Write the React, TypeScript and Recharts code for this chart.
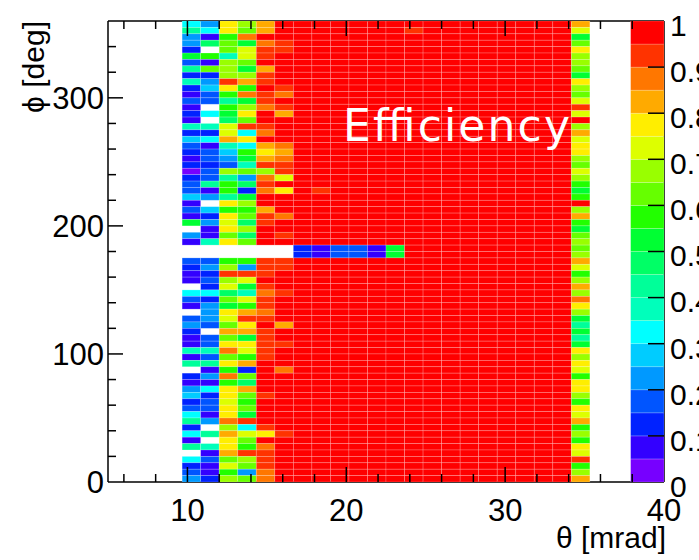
import React from "react";
import { ScatterChart, Scatter, XAxis, YAxis, ReferenceLine } from "recharts";

// efficiency map: theta 30 bins over 5-40 mrad, phi 72 bins of 5 deg
const THETA_MIN = 5;
const THETA_MAX = 40;
const THETA_BINS = 30;
const PHI_MAX = 360;
const PHI_BINS = 72;
const FIRST_BIN = 4; // first theta bin with entries (9.67-10.83 mrad)

// colour levels of the palette, 0.05 wide each
const LEVELS = "0123456789abcdefghij";
const PALETTE = [
  "#7700ff", "#3300ff", "#0022ff", "#0055ff", "#0099ff",
  "#00ccff", "#00ffff", "#00ffbb", "#00ff99", "#00ff66",
  "#00ff33", "#22ff00", "#66ff00", "#99ff00", "#ddff00",
  "#ffee00", "#ffaa00", "#ff7700", "#ff3300", "#ff0000",
];

// one string per theta bin (from FIRST_BIN), top row (phi 355-360) first, "." = empty
const effColumns = [
  "68442a3827" + "2131217253" + "2120233513" + "1a.41..321" + "1.631.3421" + "1718.21452" + "3682618.62" + "34",
  "4619.b1c24" + "533.6.7261" + "33233814.5" + "24117..342" + "32624443.3" + "3738141623" + "314.8.7131" + "12",
  "ffbcc7dddi" + "fb8ba9eeg7" + "543d8bb8fb" + "fefcf..bdi" + "de9cafecgc" + "fhcfbhbffe" + "ffhdgffgce" + "bd",
  "dchaeecadg" + "bhadfci6f6" + "ba7c492adb" + "c9d9c..b4i" + "ea7ebgifga" + "febg2c9gcb" + "cai6ecbidc" + "4c",
  "ggjhiijgii" + "jiihjjihjg" + "fgidhihjjg" + "iijjj..iii" + "jihiihijii" + "iiijjjjjij" + "jjjifjhiii" + "hh",
  "jjjiijjjjj" + "ihjigjjjjh" + "ghiiejfjjj" + "hjjij..iij" + "jjijjjjgjj" + "ijjjhjjjjj" + "jjjjijjjjj" + "jj",
  "jjjjjjjjjj" + "jjjjjjjjjj" + "jjjjjjjjjj" + "jjjjj22jjj" + "jjjjjjjjjj" + "jjjjjjjjjj" + "jjjjjjjjjj" + "jj",
  "jjjjjjjjjj" + "jjjjjjjjjj" + "jjjjjjijjj" + "jjjjj11jjj" + "jjjjjjjjjj" + "jjjjjjjjjj" + "jjjjjjjjjj" + "jj",
  "jjjjjjjjjj" + "jjjjjjjjjj" + "jjjjjjjjjj" + "jjjjj33jjj" + "jjjjjjjjjj" + "jjjjjjjjjj" + "jjjjjjjjjj" + "jj",
  "jjjjjjjjjj" + "jjjjjjjjjj" + "jjjjjjjjjj" + "jjjjj33jjj" + "jjjjjjjjjj" + "jjjjjjjjjj" + "jjjjjjjjjj" + "jj",
  "jjjjjjjjjj" + "jjjjjjjjjj" + "jjjjjjjjjj" + "jjjjj11jjj" + "jjjjjjjjjj" + "jjjjjjjjjj" + "jjjjjjjjjj" + "jj",
  "jjjjjjjjjj" + "jjjjjjjjjj" + "jjjjjjjjjj" + "jjjjjaajjj" + "jjjjjjjjjj" + "jjjjjjjjjj" + "jjjjjjjjjj" + "jj",
  "jijjjjjjjj" + "jjjjjjjjjj" + "jjjjjjjjjj" + "jjjjjjjjjj" + "jjjjjjjjjj" + "jjjjjjjjjj" + "jjjjjjjjjj" + "jj",
  "jjjjjjjjjj" + "jjjjjjjjjj" + "jjjjjjjjjj" + "jjjjjjjjjj" + "jjjjjjjjjj" + "jjjjjjjjjj" + "jjjjjjjjjj" + "jj",
  "jjjjjjjjjj" + "jjjjjjjjjj" + "jjjjjjjjjj" + "jjjjjjjjjj" + "jjjjjjjjjj" + "jjjjjjjjjj" + "jjjjjjjjjj" + "jj",
  "jjjjjjjjjj" + "jjjjjjjjjj" + "jjjjjjjjjj" + "jjjjjjjjjj" + "jjjjjjjjjj" + "jjjjjjjjjj" + "jjjjjjjjjj" + "jj",
  "jjjjjjjjjj" + "jjjjjjjjjj" + "jjjjjjjjjj" + "jjjjjjjjjj" + "jjjjjjjjjj" + "jjjjjjjjjj" + "jjjjjjjjjj" + "jj",
  "jjjjjjjjjj" + "jjjjjjjjjj" + "jjjjjjjjjj" + "jjjjjjjjjj" + "jjjjjjjjjj" + "jjjjjjjjjj" + "jjjjjjjjjj" + "jj",
  "jjjjjjjjjj" + "jjjjjjjjjj" + "jjjjjjjjjj" + "jjjjjjjjjj" + "jjjjjjjjjj" + "jjjjjjjjjj" + "jjjjjjjjjj" + "jj",
  "jjjjjjjjjj" + "jjjjjjjjjj" + "jjjjjjjjjj" + "jjjjjjjjjj" + "jjjjjjjjjj" + "jjjjjjjjjj" + "jjjjjjjjjj" + "jj",
  "jjjjjjjjjj" + "jjjjjjjjjj" + "jjjjjjjjjj" + "jjjjjjjjjj" + "jjjjjjjjjj" + "jjjjjjjjjj" + "jjjjjjjjjj" + "jj",
  "geacfddcaf" + "dceiejdgef" + "fdcedbabjd" + "gbacdcdgeb" + "dgdhfda8a8" + "afdfebffdb" + "fegbdbfeib" + "dg",
];

const THETA_TICKS = [6, 8, 10, 12, 14, 16, 18, 20, 22, 24, 26, 28, 30, 32, 34, 36, 38, 40];
const THETA_LABELS = [10, 20, 30, 40];
const PHI_TICKS = [0, 20, 40, 60, 80, 100, 120, 140, 160, 180, 200, 220, 240, 260, 280, 300, 320, 340];
const PHI_LABELS = [0, 100, 200, 300];
const PAL_TICKS = [0, 0.1, 0.2, 0.3, 0.4, 0.5, 0.6, 0.7, 0.8, 0.9, 1];
const PAL_RANGE = [37.9, 40]; // theta span covered by the colour bar

// layout
const W = 699;
const H = 560;
const LEFT = 108;
const RIGHT_AXIS = 35;
const TOP = 21;
const BOTTOM_AXIS = 78;
const PLOT_W = W - LEFT - RIGHT_AXIS;
const PLOT_H = H - TOP - BOTTOM_AXIS;
const BIN_W = (THETA_MAX - THETA_MIN) / THETA_BINS;
const PHI_W = PHI_MAX / PHI_BINS;
const CELL_W = PLOT_W / THETA_BINS;
const CELL_H = PLOT_H / PHI_BINS;
const FONT = "'Liberation Sans', Arial, Helvetica, sans-serif";

const cells = effColumns.flatMap((col, c) =>
  col.split("").flatMap((ch, i) => {
    if (ch === ".") return [];
    const level = LEVELS.indexOf(ch);
    const bin = FIRST_BIN + c;
    const row = PHI_BINS - 1 - i;
    return [{ theta: THETA_MIN + (bin + 0.5) * BIN_W, phi: (row + 0.5) * PHI_W, level }];
  })
);

const bands = PALETTE.map((_, i) => ({
  theta: (PAL_RANGE[0] + PAL_RANGE[1]) / 2,
  z: (i + 0.5) / PALETTE.length,
  level: i,
}));

const seam = "rgba(255,255,255,0.28)";

const cellShape = (p: any) => (
  <rect
    x={p.cx - CELL_W / 2}
    y={p.cy - CELL_H / 2}
    width={CELL_W}
    height={CELL_H}
    fill={PALETTE[p.payload.level]}
    stroke={seam}
    strokeWidth={0.7}
  />
);

const bandW = (PLOT_W * (PAL_RANGE[1] - PAL_RANGE[0])) / (THETA_MAX - THETA_MIN);
const bandH = PLOT_H / PALETTE.length;
const bandShape = (p: any) => (
  <rect
    x={p.cx - bandW / 2}
    y={p.cy - bandH / 2}
    width={bandW}
    height={bandH}
    fill={PALETTE[p.payload.level]}
    stroke={seam}
    strokeWidth={0.7}
  />
);

const ThetaTick = (p: any) => {
  const v = p.payload.value;
  const major = THETA_LABELS.includes(v);
  const len = major ? 15 : 8;
  const top = p.y - PLOT_H;
  return (
    <g>
      {v < THETA_MAX && <line x1={p.x} x2={p.x} y1={p.y} y2={p.y - len} stroke="#000" strokeWidth={1.5} />}
      {v < THETA_MAX && <line x1={p.x} x2={p.x} y1={top} y2={top + len} stroke="#000" strokeWidth={1.5} />}
      {major && (
        <text x={p.x} y={p.y + 39} textAnchor="middle" fontSize={31} fontFamily={FONT} fill="#000">
          {v}
        </text>
      )}
    </g>
  );
};

const PhiTick = (p: any) => {
  const v = p.payload.value;
  const major = PHI_LABELS.includes(v);
  const len = major ? 15 : 8;
  return (
    <g>
      {v > 0 && <line x1={p.x} x2={p.x + len} y1={p.y} y2={p.y} stroke="#000" strokeWidth={1.5} />}
      {major && (
        <text x={p.x - 4} y={p.y} dy="0.36em" textAnchor="end" fontSize={31} fontFamily={FONT} fill="#000">
          {v}
        </text>
      )}
    </g>
  );
};

const PalTick = (p: any) => {
  const v = p.payload.value;
  const label = v === 0 ? "0" : v === 1 ? "1" : v.toFixed(1);
  return (
    <g>
      {v > 0 && v < 1 && <line x1={p.x - 16} x2={p.x} y1={p.y} y2={p.y} stroke="#000" strokeWidth={1.5} />}
      <text x={p.x + 6} y={p.y + 4} dy="0.36em" textAnchor="start" fontSize={30} fontFamily={FONT} fill="#000">
        {label}
      </text>
    </g>
  );
};

export default function App() {
  return (
    <div style={{ position: "fixed", left: 0, top: 0, width: W, height: H, background: "#fff" }}>
      <ScatterChart width={W} height={H} margin={{ top: TOP, right: 0, bottom: 0, left: 0 }}>
        <Scatter
          data={cells}
          xAxisId="th"
          yAxisId="phi"
          shape={cellShape}
          isAnimationActive={false}
        />
        <Scatter
          data={bands}
          xAxisId="th"
          yAxisId="pal"
          shape={bandShape}
          isAnimationActive={false}
        />
        <XAxis
          xAxisId="th"
          type="number"
          dataKey="theta"
          domain={[THETA_MIN, THETA_MAX]}
          ticks={THETA_TICKS}
          interval={0}
          height={BOTTOM_AXIS}
          tickSize={0}
          tickMargin={0}
          tickLine={false}
          tick={ThetaTick}
          axisLine={{ stroke: "#000", strokeWidth: 1.5 }}
          allowDataOverflow
        />
        <YAxis
          yAxisId="phi"
          type="number"
          dataKey="phi"
          domain={[0, PHI_MAX]}
          ticks={PHI_TICKS}
          interval={0}
          width={LEFT}
          tickSize={0}
          tickMargin={0}
          tickLine={false}
          tick={PhiTick}
          axisLine={{ stroke: "#000", strokeWidth: 1.5 }}
          allowDataOverflow
        />
        <YAxis
          yAxisId="pal"
          orientation="right"
          type="number"
          dataKey="z"
          domain={[0, 1]}
          ticks={PAL_TICKS}
          interval={0}
          width={RIGHT_AXIS}
          tickSize={0}
          tickMargin={0}
          tickLine={false}
          tick={PalTick}
          axisLine={{ stroke: "#000", strokeWidth: 1.5 }}
          allowDataOverflow
        />
        <ReferenceLine xAxisId="th" yAxisId="phi" y={PHI_MAX} stroke="#000" strokeWidth={1.5} />
      </ScatterChart>
      <svg
        width={W}
        height={H}
        style={{ position: "absolute", left: 0, top: 0, pointerEvents: "none" }}
      >
        <text x={343} y={141} fontSize={44} fontFamily="'DejaVu Sans', sans-serif" fill="#fff" textLength={227} lengthAdjust="spacing">
          Efficiency
        </text>
        <text transform="translate(44,21) rotate(-90)" textAnchor="end" fontSize={30} fontFamily={FONT} fill="#000">
          ϕ [deg]
        </text>
        <text x={666} y={548} textAnchor="end" fontSize={30} fontFamily={FONT} fill="#000">
          θ [mrad]
        </text>
      </svg>
    </div>
  );
}
